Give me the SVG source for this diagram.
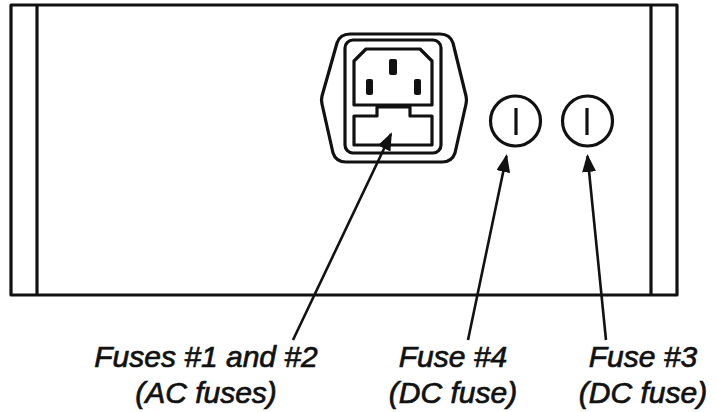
<svg xmlns="http://www.w3.org/2000/svg" width="716" height="412" viewBox="0 0 716 412">
<style>
.ln{fill:none;stroke:#111;stroke-width:3.2;stroke-linejoin:round}
.pin{fill:#111}
.conn{stroke:#111;stroke-width:2.6;fill:none}
.lbl{font-family:"Liberation Sans",Arial,sans-serif;font-style:italic;font-size:30px;fill:#111;stroke:#111;stroke-width:0.7;text-anchor:middle}
</style>
<defs>
<marker id="ah" markerUnits="userSpaceOnUse" markerWidth="19" markerHeight="15" refX="16" refY="7" orient="auto">
<path d="M0,0 L18,7 L0,14 Z" fill="#111"/>
</marker>
</defs>
<rect width="716" height="412" fill="#fff"/>
<g id="chassis">
<rect class="ln" x="11" y="5" width="666" height="290"/>
<line class="ln" x1="37" y1="5" x2="37" y2="295"/>
<line class="ln" x1="651" y1="5" x2="651" y2="295"/>
</g>
<g id="ac-inlet">
<path class="ln" d="M350,34 H440 Q450,34 453,43 L466,96 Q467,100 466,104 L455,153 Q452,162 442,162 H346 Q336,162 333,153 L322,104 Q321,100 322,96 L337,43 Q340,34 350,34 Z"/>
<rect class="ln" x="345" y="40" width="96" height="113" rx="8"/>
<path class="ln" d="M366,49 H420 L432,61 V105 H354 V61 Z"/>
<rect class="pin" x="389" y="59" width="8" height="16" rx="2"/>
<rect class="pin" x="366" y="79" width="7" height="16" rx="2"/>
<rect class="pin" x="414" y="79" width="7" height="16" rx="2"/>
<path class="ln" d="M354,145 V116 H377 V107 H410 V116 H432 V145 Z"/>
</g>
<g id="fuse4">
<circle class="ln" cx="515.5" cy="121" r="25"/>
<line class="ln" x1="516" y1="108" x2="516" y2="135"/>
</g>
<g id="fuse3">
<circle class="ln" cx="587.5" cy="121" r="25"/>
<line class="ln" x1="587" y1="108" x2="587" y2="135"/>
</g>
<g id="connectors">
<line class="conn" x1="293" y1="340" x2="391" y2="134" marker-end="url(#ah)"/>
<line class="conn" x1="468" y1="340" x2="506.5" y2="156" marker-end="url(#ah)"/>
<line class="conn" x1="606" y1="340" x2="587.5" y2="156" marker-end="url(#ah)"/>
</g>
<g id="label-ac">
<text class="lbl" x="206" y="367">Fuses #1 and #2</text>
<text class="lbl" x="206" y="403">(AC fuses)</text>
</g>
<g id="label-fuse4">
<text class="lbl" x="453" y="367">Fuse #4</text>
<text class="lbl" x="453" y="403">(DC fuse)</text>
</g>
<g id="label-fuse3">
<text class="lbl" x="643" y="367">Fuse #3</text>
<text class="lbl" x="643" y="403">(DC fuse)</text>
</g>
</svg>
